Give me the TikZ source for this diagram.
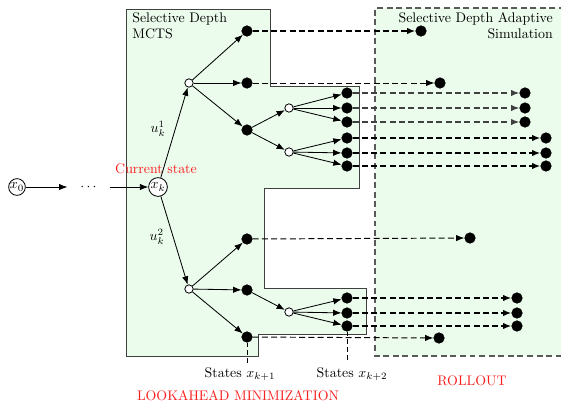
\documentclass[tikz,border=0pt]{standalone}
\usetikzlibrary{arrows.meta,calc}
\definecolor{regionfill}{RGB}{235,252,237}
\definecolor{labelred}{RGB}{250,30,30}
\begin{document}
\begin{tikzpicture}[x=0.72pt,y=-0.72pt,
  leaf/.style={circle,fill=black,draw=black,inner sep=0pt,minimum size=7.6pt},
  chance/.style={circle,fill=white,draw=black,inner sep=0pt,minimum size=6pt,line width=0.6pt},
  statenode/.style={circle,fill=white,draw=black,inner sep=0pt,minimum size=13.5pt,line width=0.6pt},
  edge/.style={line width=0.6pt,-{Latex[length=6pt,width=4.6pt]}},
  simthin/.style={line width=0.7pt,dash pattern=on 4.3pt off 2.4pt,-{Latex[length=6pt,width=4.6pt]}},
  simmid/.style={line width=1.1pt,draw=black!75,dash pattern=on 4.3pt off 2.4pt,-{Latex[length=6pt,width=4.6pt]}},
  simthick/.style={line width=1.5pt,dash pattern=on 4.3pt off 2.4pt,-{Latex[length=6pt,width=4.6pt]}},
  redlabel/.style={text=labelred,font=\normalsize},
  drop/.style={line width=0.6pt,dash pattern=on 3.5pt off 2.2pt}]

\useasboundingbox (0,0) rectangle (561,402);

% rollout region (open on the right)
\fill[regionfill] (375,8) rectangle (565,356);
\draw[black!65,line width=0.8pt,dash pattern=on 4.3pt off 2.6pt]
  (565,8) -- (375,8) -- (375,356) -- (565,356);
\node[anchor=north east,align=right,inner sep=0pt] (simtitle) at (553,12)
  {Selective Depth Adaptive\\Simulation};

% lookahead tree region
\draw[fill=regionfill,draw=black!75,line width=0.7pt]
  (126,9) -- (270,9) -- (270,86) -- (359,86) -- (359,188) -- (264,188)
  -- (264,288) -- (366,288) -- (366,334) -- (258,334) -- (258,356)
  -- (126,356) -- cycle;
\node[anchor=north west,align=left,inner sep=0pt] (mctstitle) at (132,12)
  {Selective Depth\\MCTS};

% current state and its history
\node[statenode,minimum size=12pt] (x0) at (17,187) {$x_0$};
\node[minimum width=30pt,inner sep=0pt] (dots) at (88.5,187) {$\cdots$};
\node[statenode] (xk) at (158,187) {$x_k$};
\draw[edge] (x0) -- (dots.west);
\draw[edge] (dots.east) -- (xk);
\node[redlabel] (cur) at (156,169) {Current state};

% upper subtree
\node[chance] (a1) at (189,83) {};
\node[leaf] (p1) at (247,31) {};
\node[leaf] (p2) at (247,83) {};
\node[leaf] (p3) at (247,130) {};
\node[chance] (b1) at (289,108) {};
\node[chance] (b2) at (289,152) {};
\node[leaf] (q1) at (347,93) {};
\node[leaf] (q2) at (347,108) {};
\node[leaf] (q3) at (347,122) {};
\node[leaf] (q4) at (347,138) {};
\node[leaf] (q5) at (347,153) {};
\node[leaf] (q6) at (347,166) {};

% lower subtree
\node[chance] (a2) at (189,289) {};
\node[leaf] (r1) at (247,239) {};
\node[leaf] (r2) at (247,290) {};
\node[leaf] (r3) at (247,337) {};
\node[chance] (b3) at (289,312) {};
\node[leaf] (s1) at (347,298) {};
\node[leaf] (s2) at (347,313) {};
\node[leaf] (s3) at (347,326) {};

% tree edges
\draw[edge] (xk) -- (a1);
\draw[edge] (xk) -- (a2);
\node[inner sep=0pt] (u1) at (158,129) {$u_k^1$};
\node[inner sep=0pt] (u2) at (157,237) {$u_k^2$};
\foreach \t in {p1,p2,p3} \draw[edge] (a1) -- (\t);
\draw[edge] (p3) -- (b1);
\draw[edge] (p3) -- (b2);
\foreach \t in {q1,q2,q3} \draw[edge] (b1) -- (\t);
\foreach \t in {q4,q5,q6} \draw[edge] (b2) -- (\t);
\foreach \t in {r1,r2,r3} \draw[edge] (a2) -- (\t);
\draw[edge] (r2) -- (b3);
\foreach \t in {s1,s2,s3} \draw[edge] (b3) -- (\t);

% simulation end points
\node[leaf] (e1) at (421,31) {};
\node[leaf] (e2) at (440,83) {};
\node[leaf] (f1) at (525,93) {};
\node[leaf] (f2) at (525,108) {};
\node[leaf] (f3) at (525,122) {};
\node[leaf] (f4) at (546,138) {};
\node[leaf] (f5) at (546,153) {};
\node[leaf] (f6) at (546,166) {};
\node[leaf] (g1) at (470,238) {};
\node[leaf] (h1) at (517,298) {};
\node[leaf] (h2) at (517,313) {};
\node[leaf] (h3) at (517,326) {};
\node[leaf] (g2) at (439,338) {};

% simulations
\draw[simthick] (p1) -- (e1);
\draw[simthin] (p2) -- (e2);
\draw[simmid] (q1) -- (f1);
\draw[simmid] (q2) -- (f2);
\draw[simmid] (q3) -- (f3);
\draw[simthick] (q4) -- (f4);
\draw[simthick] (q5) -- (f5);
\draw[simthick] (q6) -- (f6);
\draw[simthin] (r1) -- (g1);
\draw[simthick] (s1) -- (h1);
\draw[simthick] (s2) -- (h2);
\draw[simthick] (s3) -- (h3);
\draw[simthin] (r3) -- (g2);

% state-level labels
\node[anchor=north] (lk1) at (240,363) {States $x_{k+1}$};
\node[anchor=north] (lk2) at (352,363) {States $x_{k+2}$};
\draw[drop] (r3) -- (r3 |- lk1.north);
\draw[drop] (s3) -- (s3 |- lk2.north);

\node[redlabel] (look) at (238,396) {LOOKAHEAD MINIMIZATION};
\node[redlabel] (roll) at (472,381) {ROLLOUT};
\end{tikzpicture}
\end{document}
